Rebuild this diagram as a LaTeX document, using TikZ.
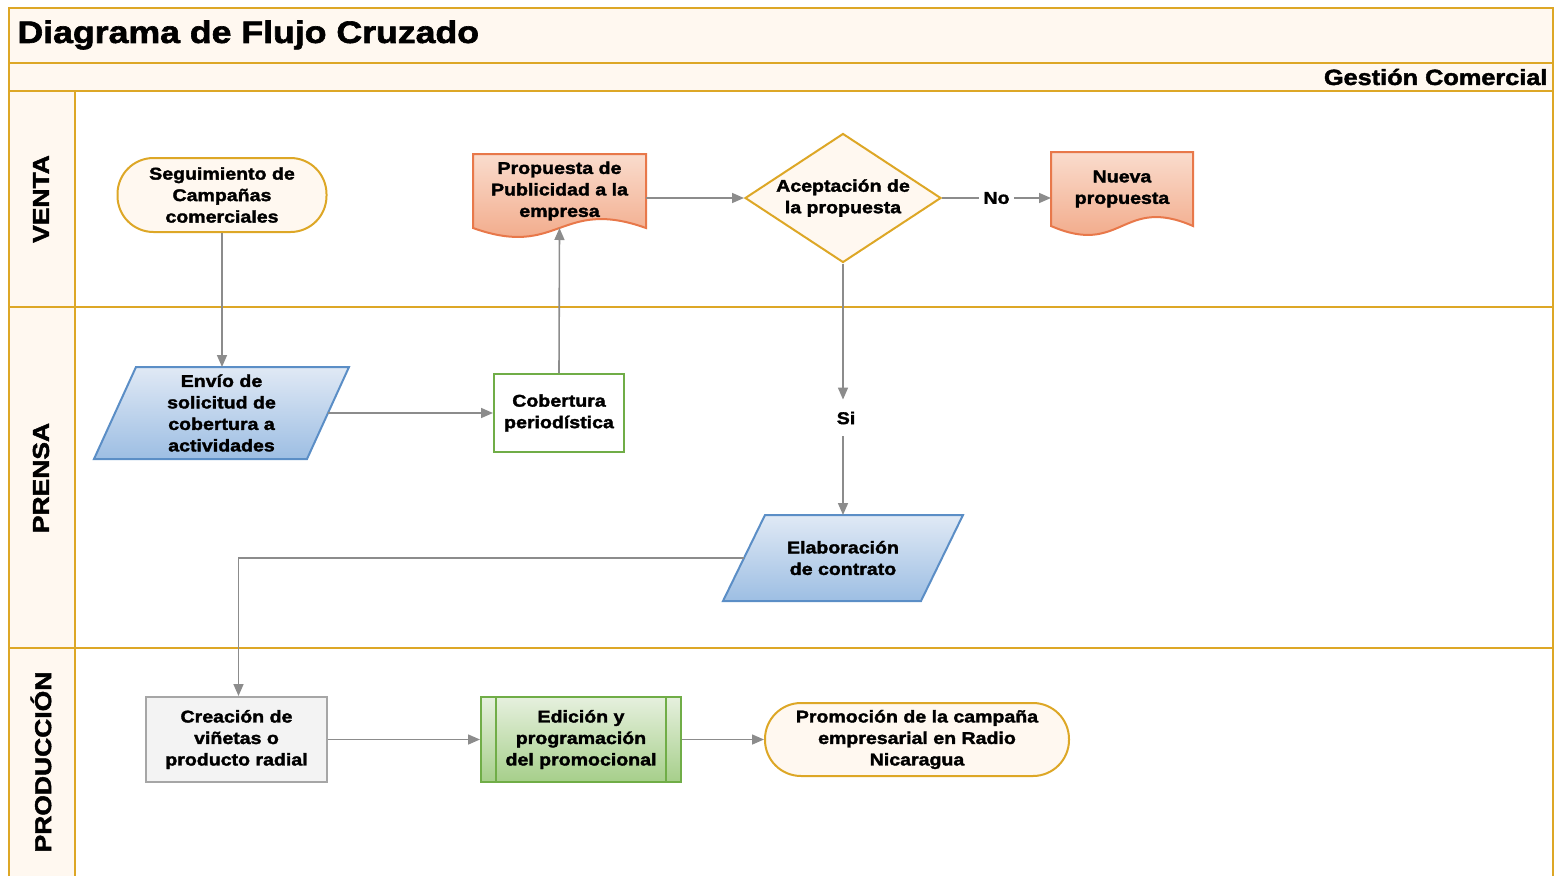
\documentclass[tikz,border=0pt]{standalone}
\usepackage{fontspec}
\setmainfont{Liberation Sans}[FakeStretch=1.15, BoldFeatures={FakeBold=2}]
\usetikzlibrary{calc,shapes.geometric,arrows.meta,backgrounds}
\definecolor{bordeoro}{HTML}{DDA726}
\definecolor{crema}{HTML}{FFF8F0}
\definecolor{gris}{HTML}{8C8C8C}
\definecolor{naranjaborde}{HTML}{E8784A}
\definecolor{naranjaa}{HTML}{FADCCD}
\definecolor{naranjab}{HTML}{F0A07C}
\definecolor{azulborde}{HTML}{5B8EC6}
\definecolor{azula}{HTML}{E0E9F5}
\definecolor{azulb}{HTML}{9DBEE3}
\definecolor{verdeborde}{HTML}{70AD47}
\definecolor{verdea}{HTML}{E6F0DE}
\definecolor{verdeb}{HTML}{A6CF8A}
\definecolor{grisborde}{HTML}{A6A6A6}
\definecolor{grisfondo}{HTML}{F3F3F3}
\newcommand{\txt}{\fontsize{17}{21.5}\selectfont\bfseries}
\tikzstyle{carril} = [draw=bordeoro, line width=2pt]
\tikzstyle{nodo} = [font=\txt, align=center, line width=2pt, inner sep=0pt]
\tikzstyle{terminal} = [nodo, draw=bordeoro, fill=crema, rectangle, rounded corners=36pt]
\tikzstyle{decision} = [nodo, draw=bordeoro, fill=crema, diamond, aspect=1.52]
\tikzstyle{datos} = [draw=azulborde, top color=azula, bottom color=azulb, line width=2pt]
\tikzstyle{proceso} = [nodo, rectangle, minimum width=181pt, minimum height=85pt]
\tikzstyle{documento} = [draw=naranjaborde, top color=naranjaa, bottom color=naranjab, line width=2pt]
\tikzstyle{flecha} = [draw=gris, line width=1.6pt, -{Triangle[length=12pt,width=10pt]}]
\tikzstyle{etiqueta} = [font=\txt, inner sep=4pt]
\tikzstyle{titulocarril} = [rotate=90, font=\fontsize{23}{27}\selectfont\bfseries]
\newcommand{\hoja}[1]{% document shape
\begin{pgfonlayer}{background}
\draw[documento] (#1.south west) -- (#1.north west) -- (#1.north east) -- (#1.south east)
    .. controls ($(#1.south)+(0,-31)$) and ($(#1.south)+(0,31)$) .. (#1.south west) -- cycle;
\end{pgfonlayer}}
\newcommand{\paralelo}[1]{% data shape
\begin{pgfonlayer}{background}
\draw[datos] ($(#1.south west)+(-21,0)$) -- ($(#1.north west)+(21,0)$)
    -- ($(#1.north east)+(21,0)$) -- ($(#1.south east)+(-21,0)$) -- cycle;
\end{pgfonlayer}}
\begin{document}
\begin{tikzpicture}[x=1pt, y=-1pt]
\useasboundingbox (0,0) rectangle (1556,876);
% lanes
\fill[crema] (9,8) rectangle (1553,91);
\fill[crema] (9,91) rectangle (75,876);
\draw[carril] (9,876) -- (9,8) -- (1553,8) -- (1553,876);
\draw[carril] (9,63) -- (1553,63);
\draw[carril] (9,91) -- (1553,91);
\draw[carril] (9,307) -- (1553,307);
\draw[carril] (9,648) -- (1553,648);
\draw[carril] (75,91) -- (75,876);
\node[anchor=west, font=\fontsize{31}{36}\selectfont\bfseries] (titulo) at (14,35) {Diagrama de Flujo Cruzado};
\node[anchor=east, font=\fontsize{22}{26}\selectfont\bfseries] (gestion) at (1551,77) {Gestión Comercial};
\node[titulocarril] (venta) at (41,199) {VENTA};
\node[titulocarril] (prensa) at (41,478) {PRENSA};
\node[titulocarril] (produccion) at (41,762) {PRODUCCIÓN};

% VENTA
\node[terminal, minimum width=209pt, minimum height=74pt] (seguim) at (222,195)
    {Seguimiento de\\Campañas\\comerciales};
\node[nodo, minimum width=171pt, minimum height=72pt] (propuesta) at (559.5,191)
    {Propuesta de\\Publicidad a la\\empresa};
\hoja{propuesta}
\node[decision, minimum width=196pt, minimum height=129pt] (acepta) at (843,198)
    {Aceptación de\\la propuesta};
\node[nodo, minimum width=140pt, minimum height=72pt] (nueva) at (1122,189)
    {Nueva\\propuesta};
\hoja{nueva}

% PRENSA
\node[nodo, minimum width=211pt, minimum height=90pt] (envio) at (221.5,413)
    {Envío de\\solicitud de\\cobertura a\\actividades};
\paralelo{envio}
\node[proceso, draw=verdeborde, fill=white, minimum width=130pt, minimum height=78pt] (cobertura) at (559,413)
    {Cobertura\\periodística};
\node[etiqueta, inner sep=12pt] (si) at (846,418) {Si};
\node[nodo, minimum width=196pt, minimum height=84pt] (elabora) at (843,558)
    {Elaboración\\de contrato};
\paralelo{elabora}

% PRODUCCION
\node[proceso, draw=grisborde, fill=grisfondo] (creacion) at (236.5,739.5)
    {Creación de\\viñetas o\\producto radial};
\node[proceso, draw=verdeborde, top color=verdea, bottom color=verdeb, minimum width=200pt] (edicion) at (581,739.5)
    {Edición y\\programación\\del promocional};
\draw[verdeborde, line width=1.5pt] ($(edicion.north west)+(16,0)$) -- ($(edicion.south west)+(16,0)$);
\draw[verdeborde, line width=1.5pt] ($(edicion.north east)+(-16,0)$) -- ($(edicion.south east)+(-16,0)$);
\node[terminal, minimum width=304pt, minimum height=73pt] (promocion) at (917,739.5)
    {Promoción de la campaña\\empresarial en Radio\\Nicaragua};

% flechas
\draw[flecha] (seguim.south) -- (seguim.south |- envio.north);
\draw[flecha] (envio.east) -- (envio.east -| cobertura.west);
\draw[flecha] (cobertura.north) -- (propuesta.south);
\draw[flecha] (propuesta.east |- acepta.west) -- (acepta.west);
\draw[flecha] (acepta.east) -- node[etiqueta, fill=white] (no) {No} (acepta.east -| nueva.west);
\draw[flecha] (acepta.south) -- (acepta.south |- si.north);
\draw[flecha] (si.south -| acepta.south) -- (elabora.north);
\draw[flecha] (elabora.west) -| ($(creacion.north)+(2,0)$);
\draw[flecha] (creacion.east) -- (edicion.west);
\draw[flecha] (edicion.east) -- (promocion.west);
\end{tikzpicture}
\end{document}
